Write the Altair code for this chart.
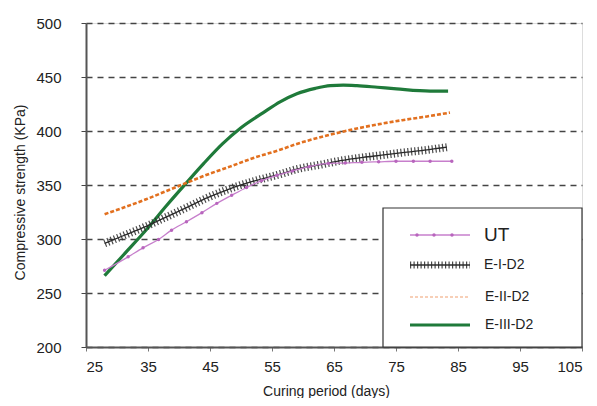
import altair as alt
import pandas as pd

FONT = "Liberation Sans"

series_order = ["UT", "E-I-D2", "E-II-D2", "E-III-D2"]
series_colors = {"UT": "#c77fcc", "E-I-D2": "#2a2a2a", "E-II-D2": "#e2701f", "E-III-D2": "#1f7a3a"}

ut_days = [28, 31.8, 34.2, 36.7, 38.8, 41.2, 43.7, 46.1, 48.5, 50.9, 53.3, 55.8, 58.3, 61.0, 64.1, 66.8, 69.5, 72.2, 75.0, 77.8, 80.5, 84.0]
ut_vals = [271, 283.5, 291.8, 299.6, 308.2, 316, 324.4, 333, 340.5, 347.7, 354, 359, 363, 367, 370, 370.3, 371, 371.5, 372, 372, 372, 372]

e1_days = [28, 31, 34.8, 38, 41.2, 44.5, 48.2, 52, 56.3, 59, 63, 66, 69.7, 73, 76, 80, 83.2]
e1_vals = [296, 303, 312, 320.5, 329, 338, 346.5, 353.5, 360, 364.7, 369, 372.5, 375.6, 377.8, 380, 382.5, 385]

e2_days = [28, 31, 34.8, 38, 41.2, 44.5, 48.2, 52, 56.3, 59, 64, 69.7, 76, 80, 83.7]
e2_vals = [323, 329, 337, 344.5, 352, 359.5, 367, 375, 382.6, 388, 396, 403.5, 410, 413.5, 417]

e3_days = [28, 31, 34.8, 38, 41.2, 44, 47, 50, 53.6, 56.3, 59, 62, 64.4, 66.5, 68.7, 72, 75.1, 80.5, 83.4]
e3_vals = [266, 285, 309, 331, 352, 370, 388, 403, 417, 427, 434.5, 439.5, 442, 442.5, 442, 440.5, 439, 437, 437]

rows = []
for name, days, vals in [("UT", ut_days, ut_vals), ("E-I-D2", e1_days, e1_vals),
                         ("E-II-D2", e2_days, e2_vals), ("E-III-D2", e3_days, e3_vals)]:
    for d, v in zip(days, vals):
        rows.append({"series": name, "day": d, "kpa": v})
df = pd.DataFrame(rows)

x_ticks = list(range(25, 106, 10))
y_ticks = list(range(200, 501, 50))

x_enc = alt.X("day:Q", scale=alt.Scale(domain=[25, 105], nice=False, zero=False),
              axis=alt.Axis(values=x_ticks, title="Curing period (days)", grid=False, ticks=True,
                            tickSize=4, tickColor="#777", labelPadding=8,
                            titleX=240, titleY=44, titleBaseline="middle", titleAlign="center",
                            domainColor="#555", domainWidth=2,
                            labelFontSize=15, titleFontSize=14, labelFont=FONT, titleFont=FONT,
                            titleFontWeight="normal", labelColor="#222", titleColor="#222"))
y_enc = alt.Y("kpa:Q", scale=alt.Scale(domain=[200, 500], nice=False, zero=False),
              axis=alt.Axis(values=y_ticks, title="Compressive strength (KPa)", grid=True,
                            gridDash=[6, 5], gridColor="#444", gridWidth=1.4,
                            tickSize=5, tickColor="#444", tickDash=[6, 5], labelPadding=20,
                            titleX=-66, titleY=169, titleBaseline="middle", titleAlign="center",
                            titleAngle=270,
                            domainColor="#555", domainWidth=2,
                            labelFontSize=15, titleFontSize=14, labelFont=FONT, titleFont=FONT,
                            titleFontWeight="normal", labelColor="#222", titleColor="#222"))

base = alt.Chart(df)


def series_chart(name):
    return base.transform_filter(alt.datum.series == name)


ut_line = series_chart("UT").mark_line(color=series_colors["UT"], strokeWidth=1.3,
                                       interpolate="monotone").encode(x=x_enc, y=y_enc, order="day:Q")
ut_points = series_chart("UT").mark_point(shape="circle", filled=True, size=12, opacity=1,
                                          color="#b865bd").encode(x=x_enc, y=y_enc)
e1_thin = series_chart("E-I-D2").mark_line(color="#2a2a2a", strokeWidth=1.3,
                                           interpolate="monotone").encode(x=x_enc, y=y_enc, order="day:Q")
e1_hatch = series_chart("E-I-D2").mark_line(color="#2a2a2a", strokeWidth=8, strokeDash=[1.2, 2.3],
                                            opacity=0.85, interpolate="monotone").encode(x=x_enc, y=y_enc, order="day:Q")
e2_line = series_chart("E-II-D2").mark_line(color=series_colors["E-II-D2"], strokeWidth=2.6,
                                            strokeDash=[4, 2], interpolate="monotone").encode(x=x_enc, y=y_enc, order="day:Q")
e3_line = series_chart("E-III-D2").mark_line(color=series_colors["E-III-D2"], strokeWidth=3.2,
                                             interpolate="monotone").encode(x=x_enc, y=y_enc, order="day:Q")

# ---- legend (drawn as decoration in pixel space) ----
one = alt.Data(values=[{}])
legend_box = alt.Chart(one).mark_rect(fill="white", stroke="#333", strokeWidth=1.2).encode(
    x=alt.value(297), x2=alt.value(496), y=alt.value(185), y2=alt.value(324))

lx0, lx1, ltext = 324, 384, 397
rows_y = {"UT": 212, "E-I-D2": 242, "E-II-D2": 274, "E-III-D2": 302}

leg_ut = alt.Chart(one).mark_rule(color=series_colors["UT"], strokeWidth=1.3).encode(
    x=alt.value(lx0), x2=alt.value(lx1), y=alt.value(rows_y["UT"]))
leg_ut_pts = alt.Chart(alt.Data(values=[{"p": 331}, {"p": 348}, {"p": 366}])).mark_point(
    shape="circle", filled=True, size=12, opacity=1, color="#b865bd").encode(
    x=alt.X("p:Q", scale=None), y=alt.value(rows_y["UT"]))
leg_e1a = alt.Chart(one).mark_rule(color="#2a2a2a", strokeWidth=1.3).encode(
    x=alt.value(lx0), x2=alt.value(lx1), y=alt.value(rows_y["E-I-D2"]))
leg_e1b = alt.Chart(one).mark_rule(color="#2a2a2a", strokeWidth=7, strokeDash=[1.2, 2.3], opacity=0.85).encode(
    x=alt.value(lx0), x2=alt.value(lx1), y=alt.value(rows_y["E-I-D2"]))
leg_e2 = alt.Chart(one).mark_rule(color="#f0a070", strokeWidth=1.2, strokeDash=[3, 2]).encode(
    x=alt.value(lx0), x2=alt.value(lx1), y=alt.value(rows_y["E-II-D2"]))
leg_e3 = alt.Chart(one).mark_rule(color=series_colors["E-III-D2"], strokeWidth=3.2).encode(
    x=alt.value(lx0), x2=alt.value(lx1), y=alt.value(rows_y["E-III-D2"]))

label_layers = []
for name in series_order:
    label_layers.append(
        alt.Chart(one).mark_text(text=name, align="left", baseline="middle", font=FONT,
                                 fontSize=19 if name == "UT" else 14, color="#222",
                                 dx=1 if name in ("UT", "E-I-D2") else 2).encode(
            x=alt.value(ltext), y=alt.value(rows_y[name]))
    )

chart = alt.layer(
    e3_line, e2_line, e1_thin, e1_hatch, ut_line, ut_points,
    legend_box, leg_ut, leg_ut_pts, leg_e1a, leg_e1b, leg_e2, leg_e3, *label_layers
).properties(
    width=496, height=324,
    autosize=alt.AutoSizeParams(type="none"),
    padding={"left": 78, "top": 15, "right": 7, "bottom": 51},
).configure_view(stroke="#555", strokeWidth=1.5).configure(background="white")

chart.save("out.html", embed_options={"renderer": "svg", "actions": False})
